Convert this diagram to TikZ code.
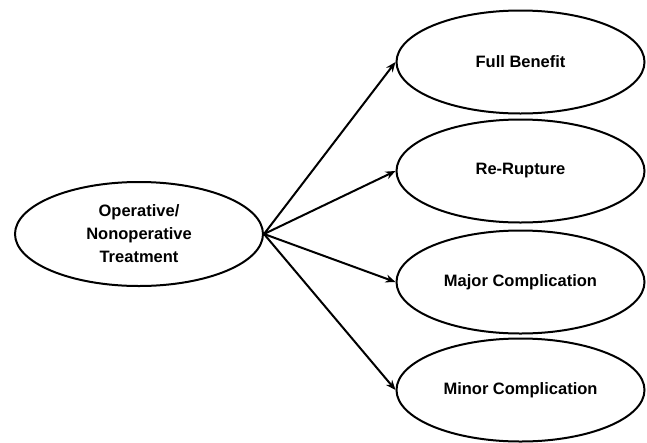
\documentclass[tikz,border=0pt]{standalone}
\usepackage{fontspec}
\setmainfont{Liberation Sans}
\usepackage{tikz}
\usetikzlibrary{arrows.meta, shapes.geometric}
\tikzset{every node/.style={font=\bfseries\fontsize{16.5}{23}\selectfont}}
\colorlet{linecol}{black}
\tikzset{
  outcome/.style={ellipse, draw=linecol, line width=2pt, inner sep=0pt,
    minimum width=248pt, minimum height=103pt, align=center},
  branch/.style={->, line width=2pt, linecol}
}

\begin{document}
\begin{tikzpicture}[x=1pt, y=-1pt, >={Stealth[length=10pt, width=8pt]}]

  % Page frame.
  \useasboundingbox (0,0) rectangle (647,442);

  % Root node.
  \node[outcome, minimum width=248pt, minimum height=104pt] (treat) at (139,234)
    {Operative/\\Nonoperative\\Treatment};

  % Outcome nodes.
  \node[outcome] (full)   at (520.5,62)  {Full Benefit};
  \node[outcome] (rerupt) at (520.5,171) {Re-Rupture};
  \node[outcome] (major)  at (520.5,282) {Major Complication};
  \node[outcome] (minor)  at (520.5,390) {Minor Complication};

  % Branches.
  \foreach \o in {full, rerupt, major, minor} {
    \draw[branch] (treat.east) -- (\o.west);
  }

\end{tikzpicture}
\end{document}
